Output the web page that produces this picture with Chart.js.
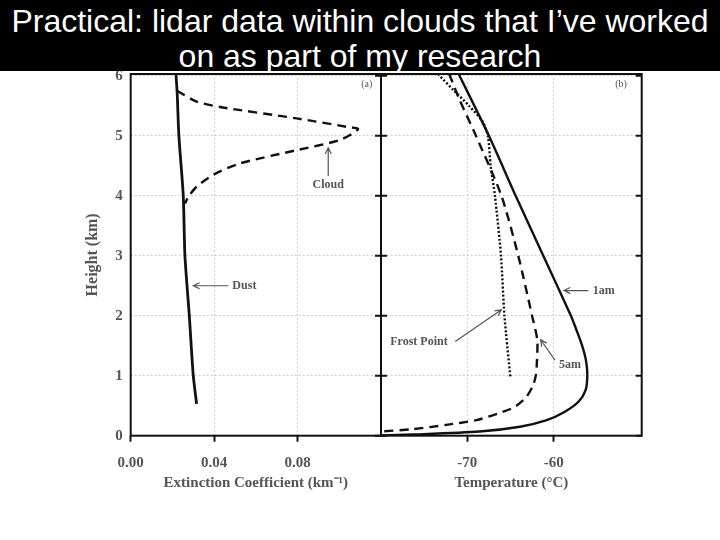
<!DOCTYPE html>
<html>
<head>
<meta charset="utf-8">
<script src="https://cdn.jsdelivr.net/npm/chart.js@4.4.0/dist/chart.umd.min.js"></script>
<style>
  html, body { margin: 0; padding: 0; background: #fff; }
  #wrap { position: relative; width: 720px; height: 540px; overflow: hidden; }
  #banner {
    position: absolute; left: 0; top: 0; width: 720px; height: 71px; overflow: hidden;
    background: #000; color: #fff; z-index: 2; box-sizing: border-box; padding-top: 4px;
    font-family: "Liberation Sans", Arial, sans-serif; font-size: 32px; line-height: 35px;
    text-align: center; white-space: nowrap;
  }
  canvas { position: absolute; left: 0; top: 0; }
</style>
</head>
<body>
<div id="wrap">
  <canvas id="chart" width="720" height="540"></canvas>
  <div id="banner">Practical: lidar data within clouds that I’ve worked<br>on as part of my research</div>
</div>
<script>
document.addEventListener("DOMContentLoaded", function() {
    // valeurs
    const heightTicks = [0, 1, 2, 3, 4, 5, 6];
    const extTicks = [0, 0.04, 0.08];
    const extTickLabels = ['0.00', '0.04', '0.08'];
    const tempTicks = [-70, -60];
    const tempTickLabels = ['-70', '-60'];

    // (a) extinction
    const dustHeight = [0.53, 1.0, 2.0, 3.0, 4.0, 5.0, 5.7, 6.03];
    const dustExt    = [0.0316, 0.0300, 0.0281, 0.0260, 0.0252, 0.0231, 0.0223, 0.0217];
    const cloudHeight = [5.75, 5.57, 5.48, 5.29, 5.15, 5.11, 4.93, 4.76, 4.54, 4.35, 4.15, 3.98, 3.87];
    const cloudExt    = [0.0222, 0.0316, 0.0428, 0.0795, 0.1035, 0.1090, 0.1003, 0.0795, 0.0524, 0.0396, 0.0316, 0.0276, 0.0260];

    // (b) température
    const h1am = [6.03, 5.0, 4.0, 3.0, 2.0, 1.76, 1.5, 1.25, 1.01, 0.76, 0.57, 0.4, 0.26, 0.15, 0.07, 0.02, 0.005];
    const t1am = [-71.0, -67.5, -64.4, -61.2, -58.0, -57.35, -56.7, -56.25, -56.1, -56.3, -57.1, -58.7, -60.8, -63.9, -68.6, -76.3, -80.0];
    const h5am = [6.03, 5.6, 5.0, 4.0, 3.0, 2.0, 1.6, 1.2, 1.01, 0.845, 0.65, 0.48, 0.37, 0.26, 0.18, 0.11, 0.07];
    const t5am = [-72.1, -70.9, -69.0, -66.05, -64.1, -62.5, -61.9, -61.95, -62.06, -62.37, -63.14, -64.5, -66.44, -68.95, -72.44, -76.3, -80.0];
    const hFrost = [6.03, 5.76, 5.5, 5.23, 4.98, 4.5, 4.0, 3.0, 2.0, 0.96];
    const tFrost = [-73.4, -71.6, -69.8, -68.2, -67.6, -67.3, -66.8, -66.1, -65.7, -65.0];

    // annotations (coordonnées en unités de données)
    const notes = [
        { axis: 'xa', text: '(a)', at: [0.1132, 5.86], small: true },
        { axis: 'xa', text: 'Cloud', at: [0.0947, 4.18], from: [0.0947, 4.33], to: [0.0947, 4.80] },
        { axis: 'xa', text: 'Dust', at: [0.0545, 2.5], from: [0.0468, 2.5], to: [0.0300, 2.5] },
        { axis: 'xb', text: '(b)', at: [-52.2, 5.86], small: true },
        { axis: 'xb', text: '1am', at: [-54.2, 2.42], from: [-55.98, 2.42], to: [-58.8, 2.42] },
        { axis: 'xb', text: 'Frost Point', at: [-75.6, 1.57], from: [-71.4, 1.57], to: [-66.05, 2.1] },
        { axis: 'xb', text: '5am', at: [-58.1, 1.18], from: [-59.85, 1.26], to: [-61.51, 1.6] }
    ];

    const serif = "'Liberation Serif', 'Times New Roman', serif";
    const gray = '#555';
    const toXY = (xs, ys) => xs.map((x, i) => ({ x: x, y: ys[i] }));

    const framePlugin = {
        id: 'frame',
        afterDatasetsDraw(chart) {
            const ctx = chart.ctx;
            const { top, bottom } = chart.chartArea;
            const xa = chart.scales.xa, xb = chart.scales.xb, y = chart.scales.y;
            ctx.save();
            ctx.strokeStyle = '#111';
            ctx.lineWidth = 2;
            ctx.strokeRect(xa.left, top, xa.right - xa.left, bottom - top);
            ctx.strokeRect(xb.left, top, xb.right - xb.left, bottom - top);
            heightTicks.forEach(v => {
                const py = y.getPixelForValue(v);
                ctx.beginPath();
                ctx.moveTo(xa.right - 6, py); ctx.lineTo(xa.right + 6, py);
                ctx.moveTo(xb.right - 6, py); ctx.lineTo(xb.right, py);
                ctx.stroke();
            });
            // annotations
            notes.forEach(n => {
                const sx = chart.scales[n.axis];
                const px = v => sx.getPixelForValue(v);
                const py = v => y.getPixelForValue(v);
                ctx.fillStyle = gray;
                ctx.strokeStyle = gray;
                ctx.font = (n.small ? '10px ' : 'bold 12px ') + serif;
                ctx.textAlign = 'center';
                ctx.textBaseline = 'middle';
                ctx.fillText(n.text, px(n.at[0]), py(n.at[1]));
                if (n.from) {
                    const x1 = px(n.from[0]), y1 = py(n.from[1]);
                    const x2 = px(n.to[0]), y2 = py(n.to[1]);
                    const a = Math.atan2(y2 - y1, x2 - x1);
                    ctx.lineWidth = 1.2;
                    ctx.beginPath();
                    ctx.moveTo(x1, y1); ctx.lineTo(x2, y2);
                    ctx.moveTo(x2 - 7 * Math.cos(a - 0.45), y2 - 7 * Math.sin(a - 0.45));
                    ctx.lineTo(x2, y2);
                    ctx.lineTo(x2 - 7 * Math.cos(a + 0.45), y2 - 7 * Math.sin(a + 0.45));
                    ctx.stroke();
                }
            });
            ctx.restore();
        }
    };

    const tickFont = { family: serif, weight: 'bold', size: 15 };
    const titleFont = { family: serif, weight: 'bold', size: 15 };
    const gridOpts = { color: '#c4c4c4', lineWidth: 1, drawTicks: true, tickLength: 6, tickColor: '#111', tickWidth: 2, tickBorderDash: [] };

    new Chart(document.getElementById('chart'), {
        type: 'scatter',
        data: {
            datasets: [
                { label: 'Dust', data: toXY(dustExt, dustHeight), xAxisID: 'xa', borderDash: [], borderWidth: 2.8 },
                { label: 'Cloud', data: toXY(cloudExt, cloudHeight), xAxisID: 'xa', borderDash: [9, 6] },
                { label: '1am', data: toXY(t1am, h1am), xAxisID: 'xb', borderDash: [] },
                { label: '5am', data: toXY(t5am, h5am), xAxisID: 'xb', borderDash: [9, 6] },
                { label: 'Frost Point', data: toXY(tFrost, hFrost), xAxisID: 'xb', borderDash: [2, 2] }
            ].map(d => Object.assign({
                showLine: true, pointRadius: 0, borderColor: '#111', borderWidth: 2.4, tension: 0.25, fill: false
            }, d))
        },
        options: {
            responsive: false,
            animation: false,
            layout: { padding: { left: 80, right: 78.3, top: 74, bottom: 44.3 } },
            plugins: { legend: { display: false }, tooltip: { enabled: false } },
            scales: {
                xa: {
                    type: 'linear', position: 'bottom', stack: 'panels', stackWeight: 250.3,
                    min: 0, max: 0.12,
                    afterBuildTicks: s => { s.ticks = extTicks.map(v => ({ value: v })); },
                    afterFit: s => { s.height = 60; },
                    ticks: { callback: v => extTickLabels[extTicks.indexOf(v)], color: gray, font: tickFont, padding: 12, autoSkip: false, maxRotation: 0 },
                    grid: gridOpts,
                    border: { display: false, dash: [1.5, 2.5] },
                    title: { display: true, text: 'Extinction Coefficient (km⁻¹)', color: gray, font: titleFont, padding: { top: 0, bottom: 4 } }
                },
                xb: {
                    type: 'linear', position: 'bottom', stack: 'panels', stackWeight: 260.7,
                    min: -80, max: -49.8,
                    afterBuildTicks: s => { s.ticks = tempTicks.map(v => ({ value: v })); },
                    afterFit: s => { s.height = 60; },
                    ticks: { callback: v => tempTickLabels[tempTicks.indexOf(v)], color: gray, font: tickFont, padding: 12, autoSkip: false, maxRotation: 0 },
                    grid: gridOpts,
                    border: { display: false, dash: [1.5, 2.5] },
                    title: { display: true, text: 'Temperature (°C)', color: gray, font: titleFont, padding: { top: 0, bottom: 4 } }
                },
                y: {
                    type: 'linear', position: 'left', min: 0, max: 6.03,
                    afterBuildTicks: s => { s.ticks = heightTicks.map(v => ({ value: v })); },
                    afterFit: s => { s.width = 50.7; },
                    ticks: { color: gray, font: tickFont, padding: 8 },
                    grid: { color: '#c4c4c4', lineWidth: 1, drawTicks: false },
                    border: { display: false, dash: [1.5, 2.5] },
                    title: { display: true, text: 'Height (km)', color: gray, font: { family: serif, weight: 'bold', size: 16 }, padding: { top: 3, bottom: 0 } }
                }
            }
        },
        plugins: [framePlugin]
    });
});
</script>
</body>
</html>
